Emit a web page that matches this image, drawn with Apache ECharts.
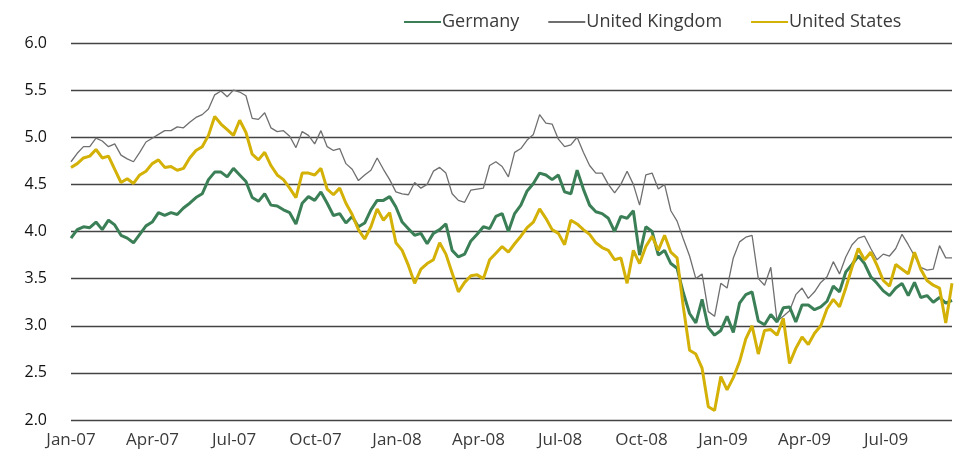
<!DOCTYPE html>
<html>
<head>
<meta charset="utf-8">
<script src="https://cdn.jsdelivr.net/npm/echarts@6/dist/echarts.min.js"></script>
<style>
  html, body { margin: 0; padding: 0; background: #fff; }
  #chart { width: 963px; height: 464px; }
</style>
</head>
<body>
<div id="chart"></div>
<script>
// weekly observations, first week = start of Jan 2007
const seriesNames = ['Germany', 'United Kingdom', 'United States']
const quarterLabels = ['Jan-07', 'Apr-07', 'Jul-07', 'Oct-07', 'Jan-08', 'Apr-08', 'Jul-08', 'Oct-08', 'Jan-09', 'Apr-09', 'Jul-09']
const yTicks = ['2.0', '2.5', '3.0', '3.5', '4.0', '4.5', '5.0', '5.5', '6.0']

const germany = [
  3.93, 4.02, 4.05, 4.04, 4.10, 4.02, 4.12, 4.07, 3.96, 3.93,
  3.88, 3.97, 4.06, 4.10, 4.20, 4.17, 4.20, 4.18, 4.25, 4.30,
  4.36, 4.40, 4.55, 4.63, 4.63, 4.58, 4.67, 4.60, 4.53, 4.36,
  4.32, 4.40, 4.28, 4.27, 4.23, 4.20, 4.08, 4.30, 4.37, 4.33,
  4.42, 4.30, 4.17, 4.19, 4.09, 4.16, 4.05, 4.09, 4.23, 4.33,
  4.33, 4.37, 4.26, 4.10, 4.03, 3.96, 3.98, 3.87, 3.98, 4.02,
  4.08, 3.80, 3.73, 3.76, 3.90, 3.97, 4.05, 4.03, 4.16, 4.19,
  4.00, 4.19, 4.28, 4.43, 4.51, 4.62, 4.60, 4.55, 4.60, 4.42,
  4.40, 4.65, 4.45, 4.28, 4.21, 4.19, 4.14, 4.00, 4.16, 4.14,
  4.22, 3.75, 4.05, 4.00, 3.75, 3.80, 3.66, 3.61, 3.35, 3.13,
  3.03, 3.28, 2.98, 2.90, 2.95, 3.10, 2.93, 3.24, 3.33, 3.36,
  3.05, 3.01, 3.12, 3.04, 3.19, 3.20, 3.04, 3.22, 3.22, 3.17,
  3.20, 3.26, 3.42, 3.36, 3.57, 3.65, 3.74, 3.66, 3.52, 3.45,
  3.37, 3.32, 3.40, 3.45, 3.32, 3.46, 3.30, 3.32, 3.25, 3.30,
  3.24, 3.27
]
const unitedKingdom = [
  4.74, 4.83, 4.90, 4.90, 4.99, 4.96, 4.90, 4.93, 4.81, 4.77,
  4.74, 4.84, 4.95, 4.99, 5.03, 5.07, 5.07, 5.11, 5.10, 5.16,
  5.21, 5.24, 5.30, 5.45, 5.49, 5.43, 5.50, 5.48, 5.44, 5.20,
  5.19, 5.26, 5.10, 5.06, 5.07, 5.01, 4.89, 5.06, 5.02, 4.93,
  5.07, 4.90, 4.86, 4.88, 4.72, 4.66, 4.54, 4.60, 4.65, 4.78,
  4.66, 4.55, 4.42, 4.40, 4.39, 4.52, 4.46, 4.50, 4.64, 4.68,
  4.62, 4.40, 4.33, 4.31, 4.44, 4.45, 4.46, 4.70, 4.74, 4.69,
  4.58, 4.84, 4.88, 4.97, 5.03, 5.24, 5.15, 5.14, 4.98, 4.90,
  4.92, 5.00, 4.84, 4.70, 4.62, 4.62, 4.50, 4.41, 4.50, 4.64,
  4.50, 4.28, 4.60, 4.62, 4.45, 4.50, 4.22, 4.11, 3.92, 3.74,
  3.50, 3.55, 3.15, 3.10, 3.45, 3.40, 3.72, 3.89, 3.94, 3.96,
  3.50, 3.43, 3.62, 3.05, 3.10, 3.16, 3.33, 3.40, 3.29, 3.36,
  3.46, 3.52, 3.68, 3.55, 3.73, 3.86, 3.93, 3.95, 3.82, 3.70,
  3.76, 3.74, 3.82, 3.97, 3.86, 3.74, 3.62, 3.59, 3.60, 3.85,
  3.72, 3.72
]
const unitedStates = [
  4.68, 4.72, 4.78, 4.80, 4.87, 4.78, 4.80, 4.66, 4.52, 4.56,
  4.51, 4.60, 4.64, 4.72, 4.76, 4.68, 4.69, 4.65, 4.67, 4.78,
  4.86, 4.90, 5.02, 5.22, 5.14, 5.08, 5.02, 5.18, 5.05, 4.82,
  4.76, 4.84, 4.70, 4.60, 4.55, 4.46, 4.36, 4.62, 4.62, 4.60,
  4.67, 4.45, 4.39, 4.46, 4.30, 4.18, 4.02, 3.92, 4.05, 4.24,
  4.12, 4.20, 3.88, 3.80, 3.64, 3.45, 3.60, 3.66, 3.70, 3.88,
  3.76, 3.56, 3.36, 3.46, 3.53, 3.54, 3.50, 3.70, 3.77, 3.84,
  3.78, 3.87, 3.95, 4.04, 4.10, 4.24, 4.14, 4.02, 3.98, 3.86,
  4.12, 4.08, 4.02, 3.97, 3.88, 3.83, 3.80, 3.70, 3.72, 3.45,
  3.80, 3.66, 3.84, 3.95, 3.80, 3.96, 3.78, 3.72, 3.20, 2.74,
  2.70, 2.55, 2.14, 2.10, 2.46, 2.32, 2.45, 2.62, 2.86, 3.00,
  2.70, 2.95, 2.96, 2.90, 3.08, 2.60, 2.76, 2.88, 2.80, 2.92,
  3.00, 3.18, 3.28, 3.20, 3.40, 3.62, 3.82, 3.70, 3.78, 3.64,
  3.48, 3.42, 3.65, 3.60, 3.55, 3.78, 3.60, 3.48, 3.43, 3.40,
  3.03, 3.45
]

const colors = ['#3b7f57', '#6f6f6f', '#d4b106']
const widths = [3, 1.3, 3]

// x is measured in months since Jan 2007
const weekToMonth = 7 / 30.4375
const toPoints = arr => arr.map((v, i) => [i * weekToMonth, v])
const xMax = (germany.length - 1) * weekToMonth

const chart = echarts.init(document.getElementById('chart'))

chart.setOption({
  animation: false,
  textStyle: { fontFamily: 'Open Sans' },
  legend: {
    top: 8,
    left: 398,
    itemWidth: 37,
    itemHeight: 14,
    itemGap: 28,
    itemStyle: { opacity: 0 },
    textStyle: { fontSize: 18, color: '#3a3a3a', fontFamily: 'Open Sans', padding: [0, 0, 0, -4] },
    data: seriesNames
  },
  grid: {
    left: 71,
    right: 11,
    top: 43,
    bottom: 44
  },
  xAxis: {
    type: 'value',
    min: 0,
    max: xMax,
    interval: 3,
    axisLine: { show: false },
    axisTick: { show: false },
    splitLine: { show: false },
    axisLabel: {
      margin: 12,
      fontSize: 17,
      color: '#3a3a3a',
      showMaxLabel: false,
      formatter: v => quarterLabels[Math.round(v / 3)] || ''
    }
  },
  yAxis: {
    type: 'value',
    min: 2,
    max: 6,
    interval: 0.5,
    axisLine: { show: false },
    axisTick: { show: false },
    axisLabel: {
      margin: 24,
      fontSize: 16,
      color: '#111',
      formatter: v => yTicks[Math.round((v - 2) / 0.5)]
    },
    splitLine: { lineStyle: { color: '#444', width: 1.4 } }
  },
  series: [germany, unitedKingdom, unitedStates].map((arr, k) => ({
    name: seriesNames[k],
    type: 'line',
    symbol: 'none',
    z: k === 1 ? 1 : (k === 2 ? 3 : 2),
    data: toPoints(arr),
    lineStyle: { color: colors[k], width: widths[k] },
    itemStyle: { color: colors[k] }
  }))
})
</script>
</body>
</html>
